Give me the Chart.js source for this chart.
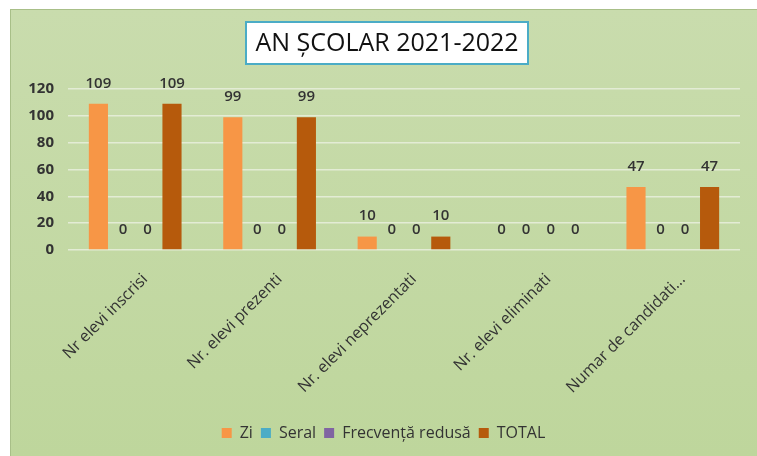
<!DOCTYPE html>
<html>
<head>
<meta charset="utf-8">
<script src="https://cdn.jsdelivr.net/npm/chart.js@4.4.1/dist/chart.umd.min.js"></script>
<style>
  html, body { margin: 0; padding: 0; background: #ffffff; }
  #panel {
    position: absolute; left: 10px; top: 9px; width: 746px; height: 446px;
    border: 1px solid #a8bf88; border-right: none; border-bottom: none;
    background: linear-gradient(#c9dcad, #bed69c);
  }
  #chart { display: block; }
</style>
</head>
<body>
<div id="panel"><canvas id="chart" width="746" height="446"></canvas></div>
<script>
var categories = ["Nr elevi inscrisi", "Nr. elevi prezenti", "Nr. elevi neprezentati", "Nr. elevi eliminati", "Numar de candidati..."];
var seriesNames = ["Zi", "Seral", "Frecvență redusă", "TOTAL"];
var zi = [109, 99, 10, 0, 47];
var seral = [0, 0, 0, 0, 0];
var frecventaRedusa = [0, 0, 0, 0, 0];
var total = [109, 99, 10, 0, 47];
var yTicks = [0, 20, 40, 60, 80, 100, 120];
var chartTitle = "AN ȘCOLAR 2021-2022";

var colors = ["#f79646", "#4bacc6", "#8064a2", "#b65a0c"];
var textColor = "#333333";
var fontFamily = "'Open Sans', sans-serif";

// draws the white title box and the value above each bar
var labelsPlugin = {
    id: 'barLabels',
    afterDraw: function (chart) {
        var ctx = chart.ctx;
        ctx.save();
        // title box
        ctx.fillStyle = "#ffffff";
        ctx.fillRect(235, 12, 282, 42);
        ctx.strokeStyle = "#4bacc6";
        ctx.lineWidth = 2;
        ctx.strokeRect(235, 12, 282, 42);
        ctx.fillStyle = "#111111";
        ctx.font = "25px " + fontFamily;
        ctx.textAlign = "center";
        ctx.textBaseline = "middle";
        ctx.fillText(chartTitle, 376, 34);
        // values
        ctx.font = "600 15px " + fontFamily;
        ctx.fillStyle = textColor;
        ctx.textBaseline = "bottom";
        chart.data.datasets.forEach(function (ds, i) {
            var meta = chart.getDatasetMeta(i);
            meta.data.forEach(function (bar, j) {
                ctx.fillText(ds.data[j], bar.x, bar.y - 13);
            });
        });
        ctx.restore();
    }
};

var datasets = [zi, seral, frecventaRedusa, total].map(function (values, i) {
    return {
        label: seriesNames[i],
        data: values,
        backgroundColor: colors[i],
        categoryPercentage: 0.73,
        barPercentage: 0.78
    };
});

var config = {
    type: 'bar',
    data: {
        labels: categories,
        datasets: datasets
    },
    options: {
        responsive: false,
        animation: false,
        layout: {
            padding: { top: 79, left: 16, right: 17, bottom: 5 }
        },
        scales: {
            x: {
                grid: { display: false },
                border: { display: false },
                afterFit: function (scale) {
                    scale.height = 167;
                    scale.paddingLeft = 0;
                    scale.paddingRight = 0;
                },
                ticks: {
                    color: textColor,
                    font: { family: fontFamily, size: 16 },
                    minRotation: 45,
                    maxRotation: 45,
                    labelOffset: 10,
                    padding: 12
                }
            },
            y: {
                min: 0,
                max: 120,
                afterBuildTicks: function (axis) {
                    axis.ticks = yTicks.map(function (v) { return { value: v }; });
                },
                afterFit: function (scale) { scale.width = 41; },
                grid: { color: "#e3ecd5", lineWidth: 1.5, drawTicks: false },
                border: { display: false },
                ticks: {
                    color: textColor,
                    font: { family: fontFamily, size: 15, weight: 'bold' },
                    padding: 14
                }
            }
        },
        plugins: {
            legend: {
                position: 'bottom',
                labels: {
                    color: textColor,
                    font: { family: fontFamily, size: 16 },
                    boxWidth: 10,
                    boxHeight: 10,
                    padding: 8
                }
            },
            tooltip: { enabled: false }
        }
    },
    plugins: [labelsPlugin]
};

var ctx = document.getElementById('chart').getContext('2d');
window.myBar = new Chart(ctx, config);
</script>
</body>
</html>
